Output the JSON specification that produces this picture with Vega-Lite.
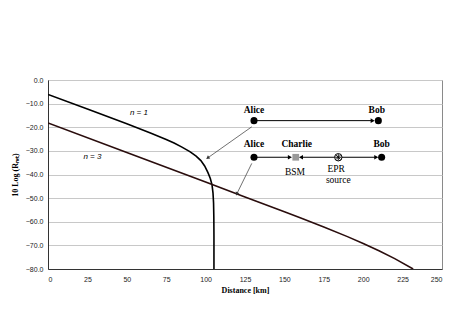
{
  "$schema": "https://vega.github.io/schema/vega-lite/v6.json",
  "width": 394,
  "height": 189,
  "autosize": "none",
  "padding": {"left": 48, "top": 80, "right": 17, "bottom": 51},
  "background": "white",
  "config": {
    "view": {"stroke": "#8a8a8a", "strokeWidth": 1},
    "axis": {"labelFont": "Liberation Sans", "labelFontSize": 7, "labelColor": "#222", "titleFont": "Liberation Serif", "titleFontSize": 8, "titleFontWeight": "bold", "titleColor": "#000", "domainColor": "#333", "ticks": false, "labelOverlap": false}
  },
  "datasets": {
    "curves": [
      {"n": "n = 1", "o": 0, "x": 0, "y": -6.1},
      {"n": "n = 1", "o": 1, "x": 25, "y": -12.25},
      {"n": "n = 1", "o": 2, "x": 50, "y": -18.5},
      {"n": "n = 1", "o": 3, "x": 65, "y": -22.4},
      {"n": "n = 1", "o": 4, "x": 75, "y": -25.15},
      {"n": "n = 1", "o": 5, "x": 80, "y": -26.7},
      {"n": "n = 1", "o": 6, "x": 85, "y": -28.4},
      {"n": "n = 1", "o": 7, "x": 90, "y": -30.3},
      {"n": "n = 1", "o": 8, "x": 94, "y": -32.2},
      {"n": "n = 1", "o": 9, "x": 97, "y": -34.1},
      {"n": "n = 1", "o": 10, "x": 99.4, "y": -36.4},
      {"n": "n = 1", "o": 11, "x": 101.5, "y": -39.2},
      {"n": "n = 1", "o": 12, "x": 103, "y": -41.7},
      {"n": "n = 1", "o": 13, "x": 104.1, "y": -44.5},
      {"n": "n = 1", "o": 14, "x": 104.7, "y": -47.9},
      {"n": "n = 1", "o": 15, "x": 105.05, "y": -52},
      {"n": "n = 1", "o": 16, "x": 105.22, "y": -58},
      {"n": "n = 1", "o": 17, "x": 105.3, "y": -66},
      {"n": "n = 1", "o": 18, "x": 105.3, "y": -80},
      {"n": "n = 3", "o": 0, "x": 0, "y": -18.2},
      {"n": "n = 3", "o": 1, "x": 50, "y": -30.7},
      {"n": "n = 3", "o": 2, "x": 100, "y": -43.2},
      {"n": "n = 3", "o": 3, "x": 125, "y": -49.5},
      {"n": "n = 3", "o": 4, "x": 150, "y": -55.8},
      {"n": "n = 3", "o": 5, "x": 160, "y": -58.3},
      {"n": "n = 3", "o": 6, "x": 175, "y": -62.2},
      {"n": "n = 3", "o": 7, "x": 190, "y": -66.3},
      {"n": "n = 3", "o": 8, "x": 200, "y": -69.2},
      {"n": "n = 3", "o": 9, "x": 210, "y": -72.3},
      {"n": "n = 3", "o": 10, "x": 220, "y": -75.6},
      {"n": "n = 3", "o": 11, "x": 231.7, "y": -80}
    ],
    "arrows": [
      {"id": "a1", "x": 130.7, "y": -17.2, "x2": 206, "y2": -17.2},
      {"id": "a2", "x": 130.7, "y": -32.7, "x2": 153.5, "y2": -32.7},
      {"id": "a3", "x": 184.2, "y": -32.7, "x2": 160.5, "y2": -32.7},
      {"id": "a4", "x": 184.2, "y": -32.7, "x2": 208.3, "y2": -32.7},
      {"id": "p1", "x": 129.3, "y": -19.8, "x2": 101.3, "y2": -33.0},
      {"id": "p2", "x": 129.3, "y": -35.3, "x2": 119.8, "y2": -48.2}
    ],
    "dots": [
      {"who": "Alice", "x": 130.7, "y": -17.2},
      {"who": "Bob", "x": 209.6, "y": -17.2},
      {"who": "Alice", "x": 130.7, "y": -32.7},
      {"who": "Bob", "x": 211.7, "y": -32.7}
    ],
    "labels": [
      {"t": "Alice", "x": 130.7, "y": -12.6, "k": "b"},
      {"t": "Bob", "x": 208.6, "y": -12.6, "k": "b"},
      {"t": "Alice", "x": 130.7, "y": -27.1, "k": "b"},
      {"t": "Charlie", "x": 157.8, "y": -27.1, "k": "b"},
      {"t": "Bob", "x": 211.7, "y": -27.1, "k": "b"},
      {"t": "BSM", "x": 156.7, "y": -38.8, "k": "r"},
      {"t": "EPR", "x": 182.9, "y": -37.8, "k": "r"},
      {"t": "source", "x": 184.2, "y": -42.4, "k": "r"}
    ],
    "curvelabels": [
      {"t": "n = 1", "x": 57.7, "y": -14.1},
      {"t": "n = 3", "x": 28.2, "y": -32.7}
    ]
  },
  "encoding": {
    "x": {"field": "x", "type": "quantitative", "scale": {"domain": [0, 250], "nice": false}, "axis": {"values": [0, 25, 50, 75, 100, 125, 150, 175, 200, 225, 250], "title": "Distance [km]", "grid": false, "labelPadding": 6, "titlePadding": 4}},
    "y": {"field": "y", "type": "quantitative", "scale": {"domain": [-80, 0], "nice": false}, "axis": {"values": [0, -10, -20, -30, -40, -50, -60, -70, -80], "format": ".1f", "title": "10 Log (Rₙₑₜ)", "grid": true, "gridColor": "#c8c8c8", "labelPadding": 5, "titlePadding": 6}}
  },
  "layer": [
    {
      "data": {"name": "curves"},
      "mark": {"type": "line", "strokeWidth": 1.6, "clip": true},
      "encoding": {
        "detail": {"field": "n"},
        "order": {"field": "o"},
        "color": {"field": "n", "type": "nominal", "scale": {"domain": ["n = 1", "n = 3"], "range": ["#000000", "#2a0d0d"]}, "legend": null}
      }
    },
    {
      "data": {"name": "curvelabels"},
      "mark": {"type": "text", "font": "Liberation Sans", "fontStyle": "italic", "fontSize": 8, "color": "#000"},
      "encoding": {"text": {"field": "t"}}
    },
    {
      "data": {"name": "arrows"},
      "transform": [{"filter": "datum.id[0] == 'a'"}],
      "mark": {"type": "rule", "color": "#000", "strokeWidth": 1},
      "encoding": {"x2": {"field": "x2"}, "y2": {"field": "y2"}}
    },
    {
      "data": {"name": "arrows"},
      "transform": [{"filter": "datum.id[0] == 'p'"}],
      "mark": {"type": "rule", "color": "#333", "strokeWidth": 0.7},
      "encoding": {"x2": {"field": "x2"}, "y2": {"field": "y2"}}
    },
    {
      "data": {"name": "arrows"},
      "transform": [{"filter": "datum.id == 'a1' || datum.id == 'a2' || datum.id == 'a4'"}],
      "mark": {"type": "point", "shape": "triangle-right", "filled": true, "color": "#000", "size": 22, "opacity": 1},
      "encoding": {"x": {"field": "x2", "type": "quantitative"}, "y": {"field": "y2", "type": "quantitative"}}
    },
    {
      "data": {"name": "arrows"},
      "transform": [{"filter": "datum.id == 'a3'"}],
      "mark": {"type": "point", "shape": "triangle-left", "filled": true, "color": "#000", "size": 22, "opacity": 1},
      "encoding": {"x": {"field": "x2", "type": "quantitative"}, "y": {"field": "y2", "type": "quantitative"}}
    },
    {
      "data": {"name": "arrows"},
      "transform": [{"filter": "datum.id == 'p1'"}],
      "mark": {"type": "point", "shape": "triangle-right", "filled": true, "color": "#333", "size": 16, "opacity": 1, "angle": 145},
      "encoding": {"x": {"field": "x2", "type": "quantitative"}, "y": {"field": "y2", "type": "quantitative"}}
    },
    {
      "data": {"name": "arrows"},
      "transform": [{"filter": "datum.id == 'p2'"}],
      "mark": {"type": "point", "shape": "triangle-right", "filled": true, "color": "#333", "size": 16, "opacity": 1, "angle": 116},
      "encoding": {"x": {"field": "x2", "type": "quantitative"}, "y": {"field": "y2", "type": "quantitative"}}
    },
    {
      "data": {"name": "dots"},
      "mark": {"type": "point", "shape": "circle", "filled": true, "color": "#000", "size": 50, "opacity": 1}
    },
    {
      "data": {"values": [{"x": 157.2, "y": -32.7}]},
      "mark": {"type": "square", "color": "#999999", "size": 45, "opacity": 1}
    },
    {
      "data": {"values": [{"x": 184.2, "y": -32.7}]},
      "mark": {"type": "point", "shape": "circle", "filled": true, "fill": "white", "stroke": "#000", "strokeWidth": 1, "size": 55, "opacity": 1}
    },
    {
      "data": {"values": [{"x": 184.2, "y": -32.7}]},
      "mark": {"type": "point", "shape": "M-1,0L1,0M0,-1L0,1M-0.7,-0.7L0.7,0.7M-0.7,0.7L0.7,-0.7", "filled": false, "stroke": "#000", "strokeWidth": 0.9, "size": 40, "opacity": 1}
    },
    {
      "data": {"name": "labels"},
      "transform": [{"filter": "datum.k == 'b'"}],
      "mark": {"type": "text", "font": "Liberation Serif", "fontWeight": "bold", "fontSize": 9.5, "color": "#000"},
      "encoding": {"text": {"field": "t"}}
    },
    {
      "data": {"name": "labels"},
      "transform": [{"filter": "datum.k == 'r'"}],
      "mark": {"type": "text", "font": "Liberation Serif", "fontSize": 9.5, "color": "#000"},
      "encoding": {"text": {"field": "t"}}
    }
  ]
}
